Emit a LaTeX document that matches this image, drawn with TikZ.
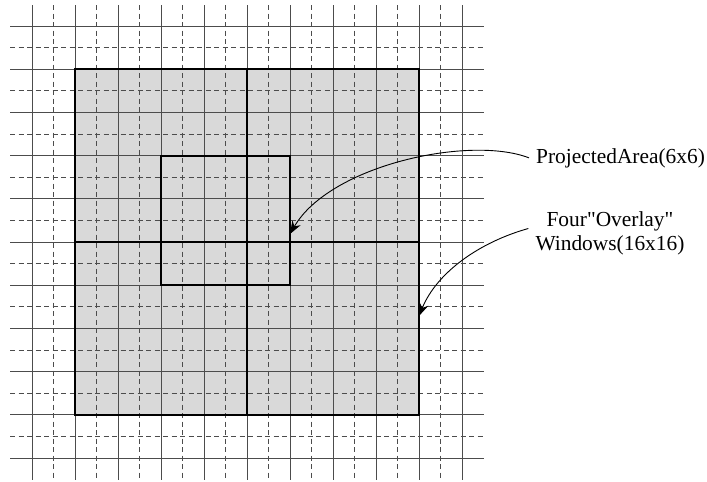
\documentclass[tikz,border=0pt]{standalone}
\usepackage{fontspec}
\setmainfont{Liberation Serif}[Ligatures=TeXOff]
\usetikzlibrary{arrows.meta}
\begin{document}
\begin{tikzpicture}[x=1pt,y=-1pt,
  gridsolid/.style={draw=black!70, line width=0.8pt},
  griddash/.style={draw=black!70, line width=0.8pt, dash pattern=on 5pt off 3.5pt},
  thickline/.style={draw=black, line width=1.8pt},
  callout/.style={draw=black, line width=0.9pt, -{Stealth[length=13pt,width=9.5pt]}},
  lbl/.style={font=\fontsize{21.4}{24.5}\selectfont, inner sep=0pt}]
\useasboundingbox (0,0) rectangle (707,482);
% shaded four windows
\fill[gray!30] (75,69.2) rectangle (419,414.8);
% grid
\foreach \k in {0,...,10} {
  \draw[gridsolid] ({32+43*\k},5) -- ({32+43*\k},480);
  \draw[gridsolid] (10,{26+43.2*\k}) -- (484,{26+43.2*\k});
}
\foreach \k in {0,...,9} {
  \draw[griddash] ({53.5+43*\k},5) -- ({53.5+43*\k},480);
  \draw[griddash] (10,{47.6+43.2*\k}) -- (484,{47.6+43.2*\k});
}
% window borders
\draw[thickline] (75,69.2) rectangle (419,414.8);
\draw[thickline] (247,69.2) -- (247,414.8);
\draw[thickline] (75,242) -- (419,242);
% projected area
\draw[thickline] (161,155.6) rectangle (290,285.2);
% labels
\node[lbl, anchor=base west] (pa) at (536,163) {ProjectedArea(6x6)};
\node[lbl, align=center] (ov) at (610,233.5) {Four"Overlay"\\Windows(16x16)};
\coordinate (tip1) at (290,234);
\coordinate (tip2) at (419,316);
\draw[callout] ([xshift=-7pt]pa.west) .. controls (470,135) and (330,165) .. (tip1);
\draw[callout] ([xshift=-7pt,yshift=5pt]ov.west) .. controls (480,242) and (437,272) .. (tip2);
\end{tikzpicture}
\end{document}
